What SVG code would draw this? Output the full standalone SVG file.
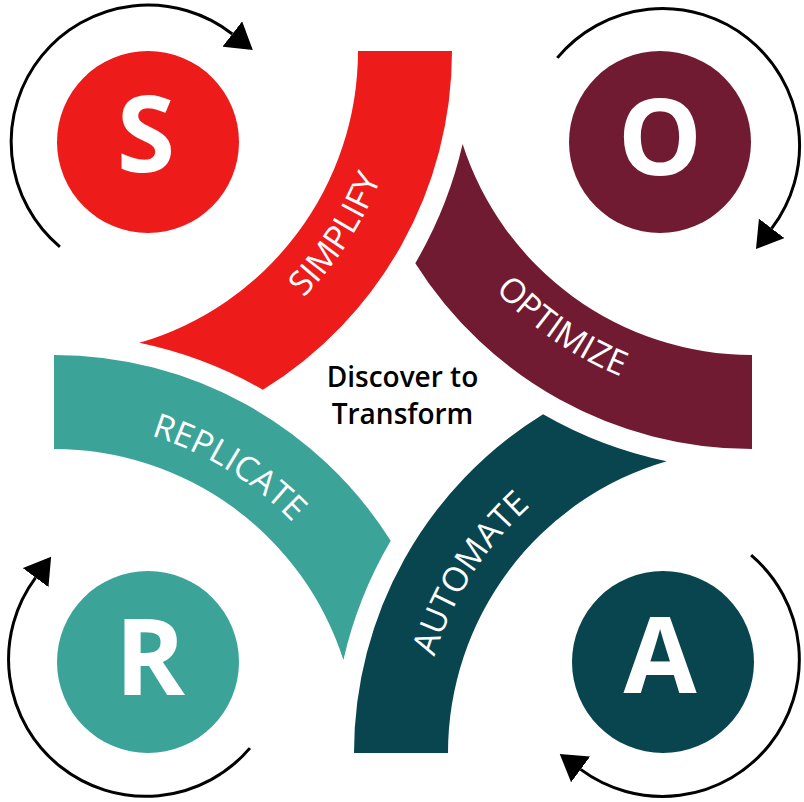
<svg xmlns="http://www.w3.org/2000/svg" xmlns:xlink="http://www.w3.org/1999/xlink" width="804" height="802" viewBox="0 0 804 802">
<style>
.red{fill:#ED1B1A}.mar{fill:#711B33}.teal{fill:#3BA398}.dark{fill:#08454F}
.letter{font-family:"Open Sans","Noto Sans","DejaVu Sans",sans-serif;font-weight:700;font-size:106px;fill:#fff;text-anchor:middle}
.band{font-family:"Open Sans","Noto Sans","DejaVu Sans",sans-serif;font-size:34px;fill:#fff}
.center{font-family:"Open Sans","Noto Sans","DejaVu Sans",sans-serif;font-size:28px;font-weight:600;fill:#000;text-anchor:middle}
.arr{fill:none;stroke:#000;stroke-width:3}
</style>
<defs>
<marker id="head" markerUnits="userSpaceOnUse" markerWidth="26" markerHeight="32" viewBox="0 0 26 32" refX="0" refY="16" orient="auto">
<path d="M0,0 L26,16 L0,32 Z" fill="#000"/>
</marker>
<path id="pS" d="M174.4,381.8 A357,357 0 0 0 405.1,26.4"/>
<path id="pO" d="M419.2,165.6 A357,357 0 0 0 764.3,402.8"/>
<path id="pR" d="M25.1,422.3 A333,333 0 0 1 361.8,628.6"/>
<path id="pA" d="M420.8,776.2 A333,333 0 0 1 633,443"/>
</defs>
<rect width="804" height="802" fill="#fff"/>
<g id="band-simplify">
<path class="red" d="M452,51 A398,398 0 0 1 262.9,389.8 A419,419 0 0 0 139.3,342.8 A304,304 0 0 0 358,51 Z"/>
<text class="band"><textPath href="#pS" xlink:href="#pS" startOffset="50%" text-anchor="middle">SIMPLIFY</textPath></text>
</g>
<g id="band-optimize">
<path class="mar" d="M752,449 A398,398 0 0 1 415.3,263.2 A419,419 0 0 0 462.6,144.1 A304,304 0 0 0 752,355 Z"/>
<text class="band"><textPath href="#pO" xlink:href="#pO" startOffset="50%" text-anchor="middle">OPTIMIZE</textPath></text>
</g>
<g id="band-replicate">
<path class="teal" d="M54,355 A398,398 0 0 1 390.7,540.8 A419,419 0 0 0 343.4,659.9 A304,304 0 0 0 54,449 Z"/>
<text class="band"><textPath href="#pR" xlink:href="#pR" startOffset="50%" text-anchor="middle">REPLICATE</textPath></text>
</g>
<g id="band-automate">
<path class="dark" d="M354,753 A398,398 0 0 1 543.1,414.2 A419,419 0 0 0 666.7,461.2 A304,304 0 0 0 448,753 Z"/>
<text class="band"><textPath href="#pA" xlink:href="#pA" startOffset="50%" text-anchor="middle">AUTOMATE</textPath></text>
</g>
<g id="circle-s"><circle class="red" cx="148" cy="142" r="91"/><text class="letter" x="146" y="172">S</text></g>
<g id="circle-o"><circle class="mar" cx="660" cy="142" r="91"/><text class="letter" x="660" y="175">O</text></g>
<g id="circle-r"><circle class="teal" cx="148" cy="662" r="91"/><text class="letter" x="150" y="695">R</text></g>
<g id="circle-a"><circle class="dark" cx="663" cy="662" r="91"/><text class="letter" x="660" y="693">A</text></g>
<g id="center-text"><text class="center" x="402.5" y="387">Discover to</text><text class="center" x="402.5" y="424">Transform</text></g>
<g id="connectors">
<path class="arr" marker-end="url(#head)" d="M59.9,246.9 A137,137 0 0 1 232.3,34"/>
<path class="arr" marker-end="url(#head)" d="M557.3,57.9 A137,137 0 0 1 771.7,228.4"/>
<path class="arr" marker-end="url(#head)" d="M751.1,555.1 A137,137 0 0 1 580.6,769.4"/>
<path class="arr" marker-end="url(#head)" d="M249.9,748.1 A137,137 0 0 1 35.6,577.6"/>
</g>
</svg>
